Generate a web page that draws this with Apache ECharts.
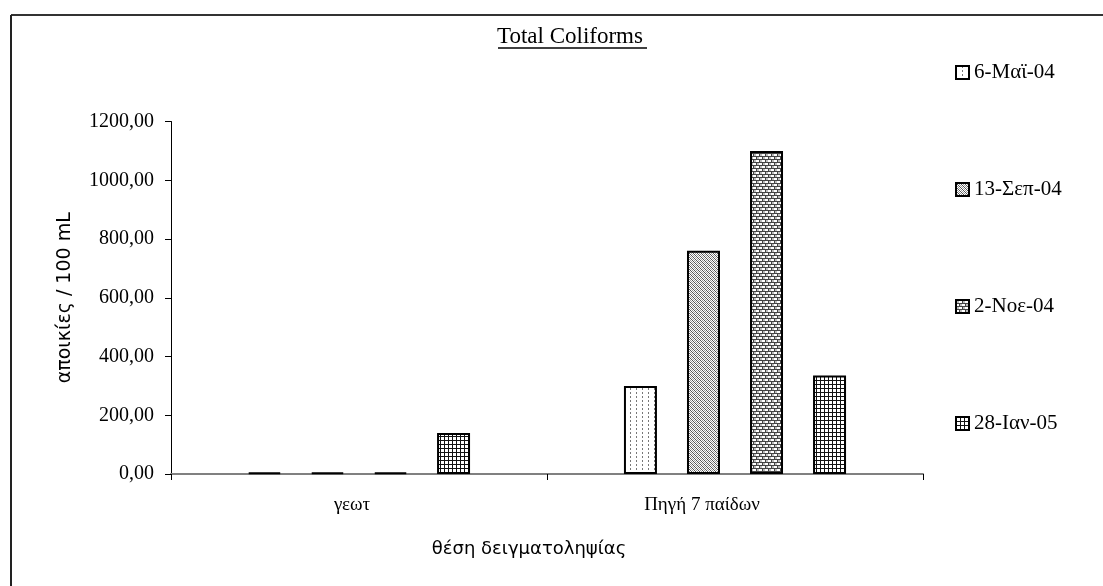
<!DOCTYPE html>
<html>
<head>
<meta charset="utf-8">
<script src="https://cdn.jsdelivr.net/npm/echarts@6/dist/echarts.min.js"></script>
<style>
html,body{margin:0;padding:0;background:#fff;}
#chart{width:1103px;height:586px;}
</style>
</head>
<body>
<div id="chart"></div>
<script>
// ---- data ----
const categories = ['γεωτ', 'Πηγή 7 παίδων'];
const seriesNames = ['6-Μαϊ-04', '13-Σεπ-04', '2-Noε-04', '28-Ιαν-05'];
const may04 = [5, 300];
const sep04 = [5, 760];
const nov04 = [5, 1100];
const jan05 = [140, 335];
const yTicks = [0, 200, 400, 600, 800, 1000, 1200];
const titleText = 'Total Coliforms';
const yName = 'αποικίες / 100 mL';
const xName = 'θέση δειγματοληψίας';

// ---- patterns ----
function makeTile(w, h, draw) {
  const c = document.createElement('canvas');
  c.width = w; c.height = h;
  const ctx = c.getContext('2d');
  ctx.fillStyle = '#fff';
  ctx.fillRect(0, 0, w, h);
  draw(ctx);
  return c;
}
const patDash = makeTile(6, 4, ctx => { ctx.fillStyle = '#777'; ctx.fillRect(0, 0, 1, 2); });
const patDiag = makeTile(4, 4, ctx => {
  ctx.fillStyle = '#555';
  for (let i = 0; i < 4; i++) ctx.fillRect(i, i, 1, 1);
  ctx.fillStyle = '#999';
  for (let i = 0; i < 4; i++) ctx.fillRect((i + 2) % 4, i, 1, 1);
});
const patBrick = makeTile(6, 6, ctx => {
  ctx.fillStyle = '#444';
  ctx.fillRect(0, 0, 6, 1);
  ctx.fillRect(0, 3, 6, 1);
  ctx.fillRect(0, 0, 1, 3);
  ctx.fillRect(3, 3, 1, 3);
  ctx.fillStyle = '#bbb';
  ctx.fillRect(1, 1, 2, 2);
  ctx.fillRect(4, 4, 2, 2);
});
const patGrid = makeTile(4, 4, ctx => {
  ctx.fillStyle = '#111';
  ctx.fillRect(0, 0, 4, 1);
  ctx.fillRect(0, 0, 1, 4);
});
const patterns = [patDash, patDiag, patBrick, patGrid];
const dataSets = [may04, sep04, nov04, jan05];

const serif = '"Liberation Serif", "Times New Roman", serif';
const sans = '"DejaVu Sans", Verdana, sans-serif';

const chart = echarts.init(document.getElementById('chart'), null, { renderer: 'canvas' });
chart.setOption({
  backgroundColor: '#fff',
  animation: false,
  title: {
    text: titleText,
    left: 497, top: 25, padding: 0,
    textStyle: { fontFamily: serif, fontSize: 23, fontWeight: 'normal', color: '#000' }
  },
  legend: {
    orient: 'vertical',
    left: 955, top: 62, padding: 0,
    itemWidth: 13, itemHeight: 13,
    itemGap: 96,
    icon: 'rect',
    textStyle: { fontFamily: serif, fontSize: 21, color: '#000' },
    data: seriesNames
  },
  grid: { left: 171, right: 180, top: 121.5, bottom: 112, containLabel: false },
  xAxis: {
    type: 'category',
    data: categories,
    name: xName,
    nameLocation: 'middle',
    nameGap: 66,
    nameTextStyle: { fontFamily: sans, fontSize: 18, color: '#000', padding: [0, 36, 0, 0] },
    axisLine: { lineStyle: { color: '#808080', width: 2 } },
    axisTick: { show: true, length: 6, lineStyle: { color: '#000' } },
    axisLabel: {
      fontFamily: serif, fontSize: 19, color: '#000', margin: 22,
      formatter: (v, i) => i === 0 ? '{a|' + v + '}' : '{b|' + v + '}',
      rich: {
        a: { fontFamily: serif, fontSize: 19, color: '#000', padding: [0, 14, 0, 0] },
        b: { fontFamily: serif, fontSize: 19, color: '#000', padding: [0, 66, 0, 0] }
      }
    }
  },
  yAxis: {
    type: 'value',
    min: 0, max: 1200, interval: 200,
    name: yName,
    nameLocation: 'middle',
    nameRotate: 90,
    nameGap: 96,
    nameTextStyle: { fontFamily: sans, fontSize: 19, color: '#000' },
    splitLine: { show: false },
    axisLine: { show: true, lineStyle: { color: '#000', width: 1 } },
    axisTick: { show: true, length: 6, lineStyle: { color: '#000' } },
    axisLabel: {
      fontFamily: serif, fontSize: 20, color: '#000', margin: 17,
      formatter: v => yTicks.includes(v) ? v.toFixed(2).replace('.', ',') : ''
    }
  },
  series: seriesNames.map((n, i) => ({
    name: n,
    type: 'bar',
    data: dataSets[i],
    barWidth: 33,
    barGap: '91%',
    itemStyle: {
      color: { image: patterns[i], repeat: 'repeat' },
      borderColor: '#000',
      borderWidth: 2
    }
  })),
  graphic: [
    { type: 'line', shape: { x1: 498, y1: 48, x2: 647, y2: 48 }, style: { stroke: '#000', lineWidth: 1.5 } },
    { type: 'line', shape: { x1: 11, y1: 15, x2: 1103, y2: 15 }, style: { stroke: '#333', lineWidth: 2 } },
    { type: 'line', shape: { x1: 11, y1: 15, x2: 11, y2: 586 }, style: { stroke: '#222', lineWidth: 2 } }
  ]
});
</script>
</body>
</html>
